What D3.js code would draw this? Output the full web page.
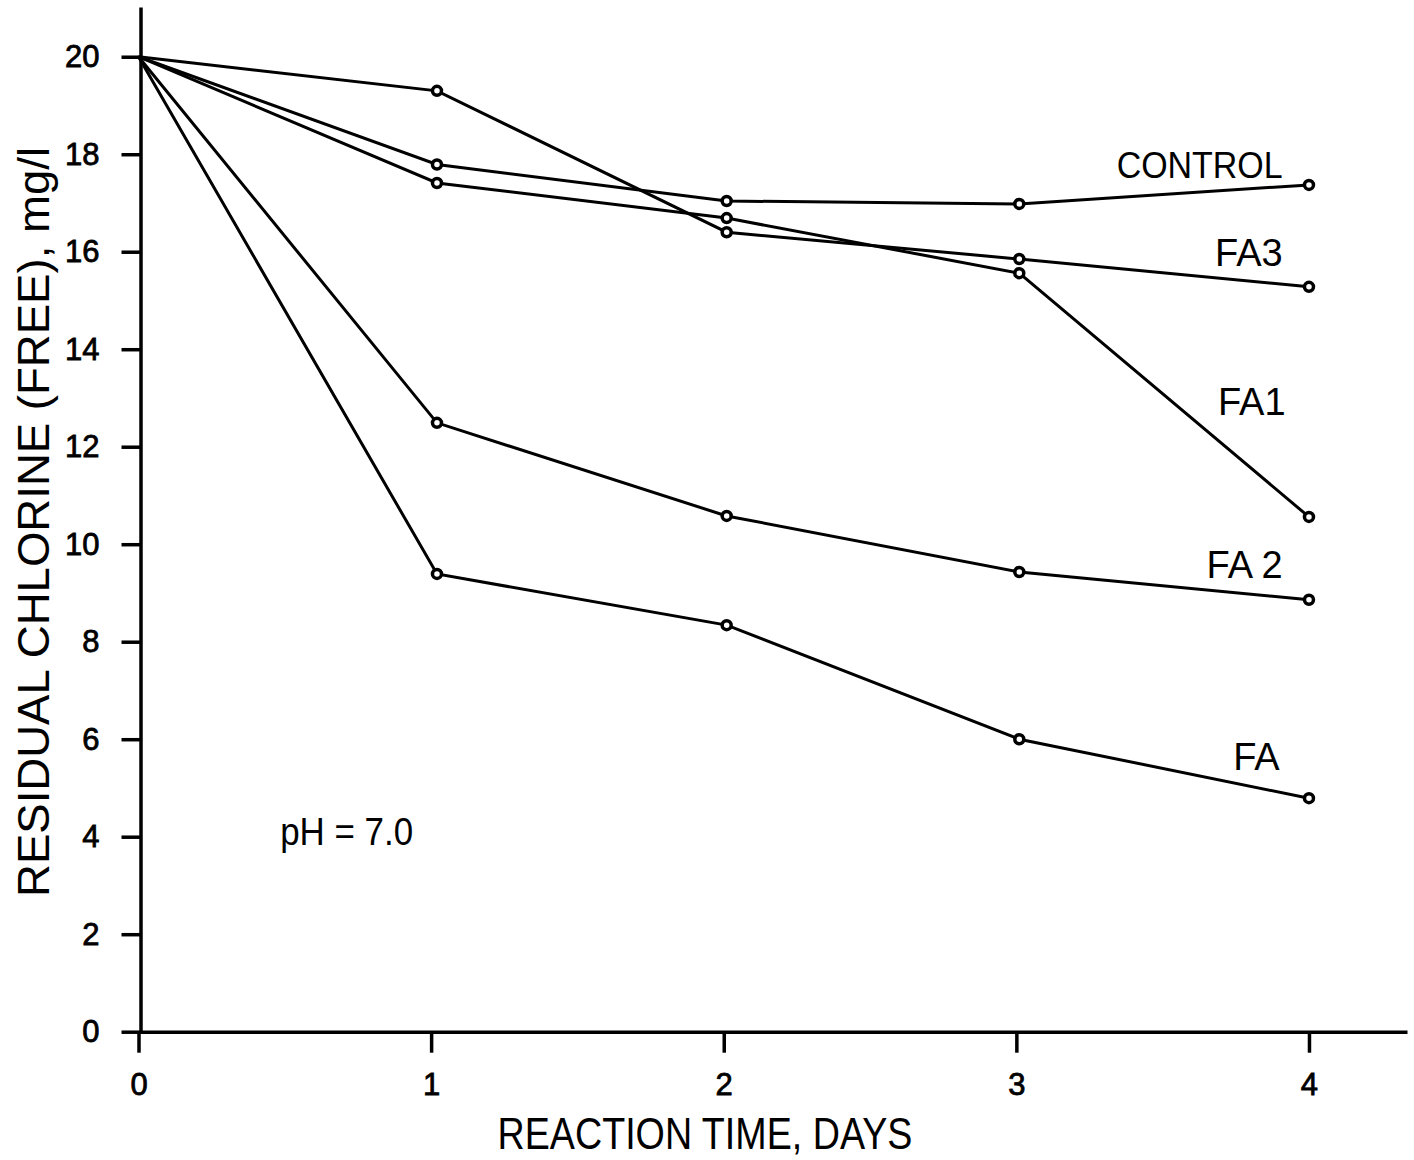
<!DOCTYPE html>
<html>
<head>
<meta charset="utf-8">
<script src="https://cdn.jsdelivr.net/npm/d3@7"></script>
<style>
  body { margin: 0; background: #fff; }
  svg { font-family: "Liberation Sans", Arial, sans-serif; }
  .axis path, .axis line { stroke: #000; stroke-width: 3.5; }
  .axis text { font-size: 31px; fill: #000; stroke: #000; stroke-width: 0.8; }
  .series { fill: none; stroke: #000; stroke-width: 3; }
  .pt { fill: #fff; stroke: #000; stroke-width: 3.5; }
  .lbl { font-size: 38px; fill: #000; text-anchor: end; }
</style>
</head>
<body>
<svg width="1414" height="1160"></svg>
<script>
// reaction time (days) where samples were read
const days = [0, 1.02, 2.01, 3.01, 4.0];

// residual free chlorine, mg/l
const control = [20, 17.79, 17.04, 16.98, 17.37];
const fa3 = [20, 19.30, 16.40, 15.85, 15.28];
const fa1 = [20, 17.41, 16.69, 15.56, 10.56];
const fa2 = [20, 12.49, 10.58, 9.43, 8.86];
const fa = [20, 9.39, 8.34, 6.00, 4.79];

const seriesNames = ["CONTROL", "FA3", "FA1", "FA 2", "FA"];
const seriesValues = [control, fa3, fa1, fa2, fa];

// where the curve names sit (data coords, right end of text)
const labelX = [3.91, 3.91, 3.92, 3.91, 3.9];
const labelY = [17.51, 15.71, 12.65, 9.31, 5.37];

const xTicks = [0, 1, 2, 3, 4];
const yTicks = [0, 2, 4, 6, 8, 10, 12, 14, 16, 18, 20];

const svg = d3.select("svg");

const x = d3.scaleLinear().domain([0, 4.335]).range([138.5, 1407]);
const y = d3.scaleLinear().domain([0, 21.02]).range([1031.7, 7]);

svg.append("g")
    .attr("class", "axis")
    .attr("transform", `translate(0,${y(0)})`)
    .call(d3.axisBottom(x).tickValues(xTicks).tickFormat(d3.format("d"))
        .tickSize(21).tickSizeOuter(0).tickPadding(20));

svg.append("g")
    .attr("class", "axis")
    .attr("transform", `translate(${x(0) + 2},0)`)
    .call(d3.axisLeft(y).tickValues(yTicks).tickFormat(d3.format("d"))
        .tickSize(19).tickSizeOuter(0).tickPadding(22));

const line = d3.line()
    .x((d, i) => x(days[i]))
    .y(d => y(d));

seriesValues.forEach((vals) => {
    svg.append("path")
        .attr("class", "series")
        .attr("d", line(vals));

    svg.selectAll(null)
        .data(vals.slice(1))
        .enter().append("circle")
        .attr("class", "pt")
        .attr("cx", (d, i) => x(days[i + 1]))
        .attr("cy", d => y(d))
        .attr("r", 4.5);
});

svg.selectAll(".lbl")
    .data(seriesNames)
    .enter().append("text")
    .attr("class", "lbl")
    .attr("x", (d, i) => x(labelX[i]))
    .attr("y", (d, i) => y(labelY[i]))
    .attr("textLength", d => d === "CONTROL" ? 166 : null)
    .attr("lengthAdjust", "spacingAndGlyphs")
    .style("font-size", d => d === "CONTROL" ? "36px" : null)
    .text(d => d);

svg.append("text")
    .attr("x", x(0.484))
    .attr("y", y(3.83))
    .style("font-size", "38px")
    .attr("textLength", 133)
    .attr("lengthAdjust", "spacingAndGlyphs")
    .text("pH = 7.0");

svg.append("text")
    .attr("x", 705)
    .attr("y", 1149)
    .attr("text-anchor", "middle")
    .style("font-size", "44px")
    .attr("textLength", 415)
    .attr("lengthAdjust", "spacingAndGlyphs")
    .text("REACTION TIME, DAYS");

svg.append("text")
    .attr("transform", "translate(49,522) rotate(-90)")
    .attr("text-anchor", "middle")
    .style("font-size", "44px")
    .attr("textLength", 750)
    .attr("lengthAdjust", "spacingAndGlyphs")
    .text("RESIDUAL CHLORINE (FREE), mg/l");
</script>
</body>
</html>
